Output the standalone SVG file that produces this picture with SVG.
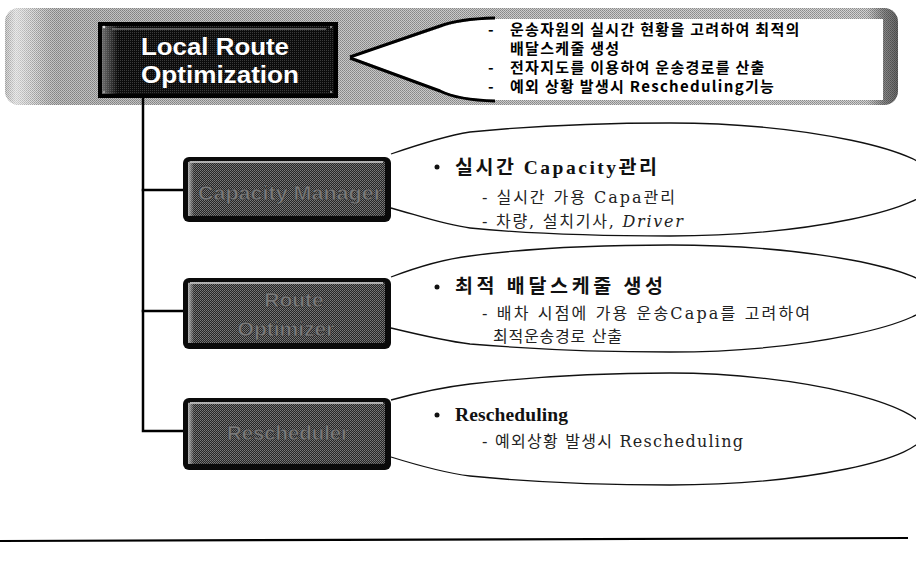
<svg xmlns="http://www.w3.org/2000/svg" width="916" height="585" viewBox="0 0 916 585">
<defs>
<pattern id="ditherLight" width="2" height="2" patternUnits="userSpaceOnUse">
<rect width="2" height="2" fill="#d2d2d2"/>
<rect width="1" height="1" fill="#8c8c8c"/>
<rect x="1" y="1" width="1" height="1" fill="#9a9a9a"/>
</pattern>
<pattern id="ditherDark" width="2" height="2" patternUnits="userSpaceOnUse">
<rect width="2" height="2" fill="#262626"/>
<rect width="1" height="1" fill="#7a7a7a"/>
<rect x="1" y="1" width="1" height="1" fill="#6a6a6a"/>
</pattern>
<pattern id="ditherTitle" width="2" height="2" patternUnits="userSpaceOnUse">
<rect width="2" height="2" fill="#0c0c0c"/>
<rect width="1" height="1" fill="#3a3a3a"/>
</pattern>
<linearGradient id="bannerShade" x1="0" y1="0" x2="1" y2="0">
<stop offset="0" stop-color="#ffffff" stop-opacity="0.1"/>
<stop offset="0.012" stop-color="#ffffff" stop-opacity="0.55"/>
<stop offset="0.035" stop-color="#ffffff" stop-opacity="0.15"/>
<stop offset="0.06" stop-color="#000000" stop-opacity="0.08"/>
<stop offset="0.965" stop-color="#000000" stop-opacity="0"/>
<stop offset="0.985" stop-color="#000000" stop-opacity="0.35"/>
<stop offset="1" stop-color="#000000" stop-opacity="0.5"/>
</linearGradient>
<linearGradient id="bevelLeft" x1="0" y1="0" x2="1" y2="0">
<stop offset="0" stop-color="#bdbdbd" stop-opacity="0.9"/>
<stop offset="1" stop-color="#bdbdbd" stop-opacity="0"/>
</linearGradient>
<style>
.conn{stroke:#000;stroke-width:2.5;fill:none;stroke-linecap:square}
.bubble{stroke:#111;stroke-width:1.3;fill:none}
.nodeOuter{fill:#0a0a0a}
.nodeInner{fill:url(#ditherDark)}
.nodeText{font-family:"Liberation Sans",Arial,sans-serif;font-size:21px;font-weight:bold;fill:#7a7a7a;stroke:#2a2a2a;stroke-width:0.5}
.title{font-family:"Liberation Sans",Arial,sans-serif;font-size:23.5px;font-weight:bold;fill:#ffffff}
.note{font-family:"Noto Sans CJK KR",sans-serif;font-size:15px;font-weight:bold;fill:#000;letter-spacing:1.3px}
.head{font-family:"Liberation Serif","Noto Sans CJK KR",serif;font-size:19.5px;font-weight:bold;fill:#111}
.body{font-family:"DejaVu Serif","Noto Sans CJK KR",serif;font-size:16px;fill:#222}
.bullet{fill:#111}
</style>
</defs>
<rect width="916" height="585" fill="#ffffff"/>

<g id="banner">
<rect x="5" y="8" width="893" height="97" rx="14" fill="url(#ditherLight)"/>
<rect x="5" y="8" width="893" height="97" rx="14" fill="url(#bannerShade)"/>
<path d="M352,57 L440,28 Q460,20 497,19 L883,19 L883,100 L497,100 Q460,99 440,90 Z" fill="#ffffff"/>
<path d="M350,57 L440,26 Q458,19 495,18" fill="none" stroke="#000" stroke-width="3"/>
<path d="M350,58 L440,91 Q458,100 495,101" fill="none" stroke="#000" stroke-width="3"/>
<text class="note" y="35"><tspan x="488">-</tspan><tspan x="510">운송자원의 실시간 현황을 고려하여 최적의</tspan></text>
<text class="note" x="510" y="54">배달스케줄 생성</text>
<text class="note" y="73"><tspan x="488">-</tspan><tspan x="510">전자지도를 이용하여 운송경로를 산출</tspan></text>
<text class="note" y="92"><tspan x="488">-</tspan><tspan x="510">예외 상황 발생시 Rescheduling기능</tspan></text>
</g>

<g id="node-local-route-optimization">
<rect x="98" y="22" width="240" height="76" fill="#000"/>
<rect x="102" y="26" width="232" height="68" fill="url(#ditherTitle)"/>
<rect x="102" y="26" width="16" height="68" fill="url(#bevelLeft)" opacity="0.6"/>
<line x1="112" y1="29" x2="326" y2="29" stroke="#9a9a9a" stroke-width="1"/>
<circle cx="104" cy="27" r="1.3" fill="#ddd"/>
<circle cx="331" cy="27" r="1" fill="#aaa"/>
<circle cx="104" cy="92" r="1" fill="#aaa"/>
<circle cx="331" cy="92" r="1" fill="#aaa"/>
<text class="title" x="141" y="55" textLength="148" lengthAdjust="spacingAndGlyphs">Local Route</text>
<text class="title" x="141" y="83" textLength="158" lengthAdjust="spacingAndGlyphs">Optimization</text>
</g>

<g id="connectors">
<path class="conn" d="M143,98 L143,431 L183,431"/>
<path class="conn" d="M143,190 L183,190"/>
<path class="conn" d="M143,311 L183,311"/>
<path class="bubble" d="M391,154 C420,144 445,136 470,132 C530,126 600,123 670,123 C800,123 935,150 935,180 C935,210 800,236 670,236 C600,236 530,234 470,228 C445,225 420,216 391,208"/>
<path class="bubble" d="M391,277 C420,266 445,259 470,256 C530,248 600,245 670,245 C800,245 935,268 935,296 C935,325 800,352 670,352 C600,352 530,349 470,344 C445,341 420,335 391,328"/>
<path class="bubble" d="M391,400 C420,392 445,387 470,384 C530,377 600,373 670,373 C800,373 925,405 925,432 C925,460 800,485 670,485 C600,485 530,482 470,476 C445,473 420,466 391,457"/>
</g>

<g id="node-capacity-manager">
<rect class="nodeOuter" x="183" y="157" width="208" height="65" rx="6"/>
<rect class="nodeInner" x="188" y="161" width="197" height="55" rx="2"/>
<line x1="190" y1="162" x2="383" y2="162" stroke="#d0d0d0" stroke-width="1.5"/>
<rect x="188" y="162" width="6" height="54" fill="url(#bevelLeft)"/>
<text class="nodeText" x="290" y="200" text-anchor="middle" textLength="184" lengthAdjust="spacingAndGlyphs">Capacity Manager</text>
</g>

<g id="node-route-optimizer">
<rect class="nodeOuter" x="183" y="278" width="208" height="71" rx="6"/>
<rect class="nodeInner" x="188" y="282" width="197" height="61" rx="2"/>
<line x1="190" y1="283" x2="383" y2="283" stroke="#d0d0d0" stroke-width="1.5"/>
<rect x="188" y="283" width="6" height="60" fill="url(#bevelLeft)"/>
<text class="nodeText" x="294" y="307" text-anchor="middle">Route</text>
<text class="nodeText" x="286" y="336" text-anchor="middle">Optimizer</text>
</g>

<g id="node-rescheduler">
<rect class="nodeOuter" x="183" y="398" width="208" height="72" rx="6"/>
<rect class="nodeInner" x="188" y="402" width="197" height="62" rx="2"/>
<line x1="190" y1="403" x2="383" y2="403" stroke="#d0d0d0" stroke-width="1.5"/>
<rect x="188" y="403" width="6" height="61" fill="url(#bevelLeft)"/>
<text class="nodeText" x="288" y="440" text-anchor="middle" textLength="122" lengthAdjust="spacingAndGlyphs">Rescheduler</text>
</g>

<g id="text-capacity">
<circle class="bullet" cx="437" cy="167" r="2.5"/>
<text class="head" x="455" y="174" textLength="202" lengthAdjust="spacing">실시간 Capacity관리</text>
<text class="body" x="482" y="203" textLength="193" lengthAdjust="spacing">- 실시간 가용 Capa관리</text>
<text class="body" x="482" y="227" textLength="201" lengthAdjust="spacing">- 차량, 설치기사, <tspan font-style="italic">Driver</tspan></text>
</g>

<g id="text-route">
<circle class="bullet" cx="437" cy="287" r="2.5"/>
<text class="head" x="455" y="293" textLength="208" lengthAdjust="spacing">최적 배달스케줄 생성</text>
<text class="body" x="482" y="319" textLength="328" lengthAdjust="spacing">- 배차 시점에 가용 운송Capa를 고려하여</text>
<text class="body" x="493" y="342" textLength="129" lengthAdjust="spacing">최적운송경로 산출</text>
</g>

<g id="text-rescheduling">
<circle class="bullet" cx="437" cy="415" r="2.5"/>
<text class="head" x="455" y="421" textLength="113" lengthAdjust="spacing">Rescheduling</text>
<text class="body" x="482" y="447" textLength="261" lengthAdjust="spacing">- 예외상황 발생시 Rescheduling</text>
</g>

<line x1="0" y1="541" x2="908" y2="538" stroke="#000" stroke-width="2.2"/>
</svg>
